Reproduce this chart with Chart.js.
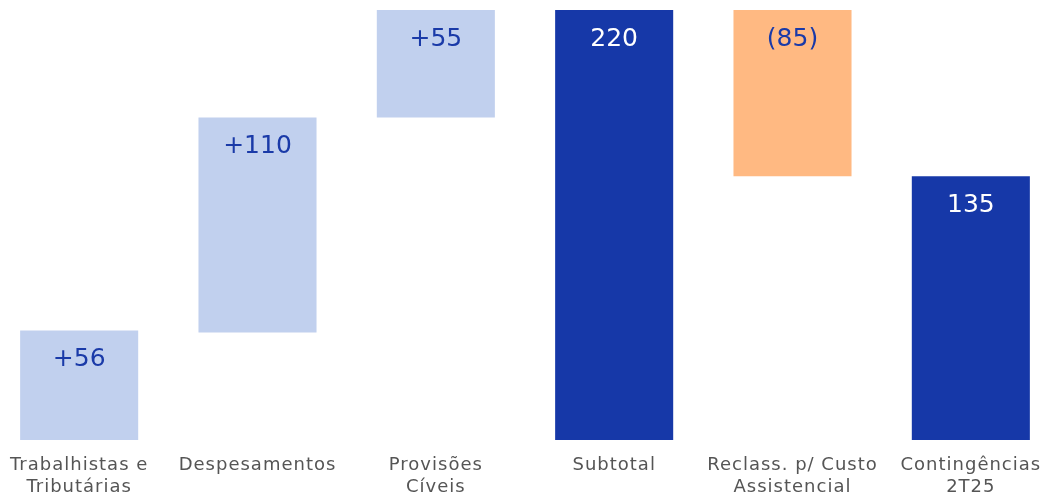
<!DOCTYPE html>
<html>
<head>
<meta charset="utf-8">
<script src="https://cdn.jsdelivr.net/npm/chart.js@4/dist/chart.umd.min.js"></script>
<style>
  html, body { margin: 0; padding: 0; background: #fff; overflow: hidden; }
  #wrap { position: absolute; left: -10px; top: 0; width: 1070px; height: 512px; }
</style>
</head>
<body>
<div id="wrap"><canvas id="chart-waterfall"></canvas></div>
<script>
  // Categories (multi-line labels)
  const categories = [
    ['Trabalhistas e', 'Tributárias'],
    ['Despesamentos'],
    ['Provisões', 'Cíveis'],
    ['Subtotal'],
    ['Reclass. p/ Custo', 'Assistencial'],
    ['Contingências', '2T25']
  ];

  // Floating bar ranges [start, end]
  const barStarts = [0, 55, 165, 0, 135, 0];
  const barEnds = [56, 165, 220, 220, 220, 135];

  // Text shown inside each bar
  const valueLabels = ['+56', '+110', '+55', '220', '(85)', '135'];

  const COLORS = {
    light: '#c1d0ee',
    dark: '#1638a8',
    orange: '#ffb982',
    text: '#1a3aa8',
    axis: '#555555'
  };
  const barColors = [COLORS.light, COLORS.light, COLORS.light, COLORS.dark, COLORS.orange, COLORS.dark];
  const labelColors = [COLORS.text, COLORS.text, COLORS.text, '#ffffff', COLORS.text, '#ffffff'];

  const FONT = '"DejaVu Sans", sans-serif';

  // Wider tracking for the axis text (canvas state resets on resize)
  const tracking = {
    id: 'tracking',
    beforeLayout(chart) { chart.ctx.letterSpacing = '1px'; },
    beforeDraw(chart) { chart.ctx.letterSpacing = '1px'; }
  };

  // Draws the value text near the top of each bar
  const barLabels = {
    id: 'barLabels',
    afterDatasetsDraw(chart) {
      const ctx = chart.ctx;
      const meta = chart.getDatasetMeta(0);
      ctx.save();
      ctx.letterSpacing = '0px';
      ctx.font = '400 25px ' + FONT;
      ctx.textAlign = 'center';
      ctx.textBaseline = 'middle';
      meta.data.forEach((bar, i) => {
        ctx.fillStyle = labelColors[i];
        ctx.fillText(valueLabels[i], bar.x, bar.y + 29);
      });
      ctx.restore();
    }
  };

  new Chart(document.getElementById('chart-waterfall'), {
    type: 'bar',
    data: {
      labels: categories,
      datasets: [{
        data: barStarts.map((s, i) => [s, barEnds[i]]),
        backgroundColor: barColors,
        borderWidth: 0,
        barPercentage: 1,
        categoryPercentage: 0.662
      }]
    },
    options: {
      responsive: true,
      maintainAspectRatio: false,
      animation: false,
      layout: { padding: { top: 10, bottom: 0, left: 0, right: 0 } },
      plugins: {
        legend: { display: false },
        tooltip: { enabled: false }
      },
      scales: {
        x: {
          grid: { display: false, drawTicks: false },
          border: { display: false },
          ticks: {
            color: COLORS.axis,
            font: { family: FONT, size: 18, lineHeight: 1.222 },
            padding: 14,
            maxRotation: 0,
            autoSkip: false
          }
        },
        y: {
          display: false,
          min: 0,
          max: 220
        }
      }
    },
    plugins: [tracking, barLabels]
  });
</script>
</body>
</html>
